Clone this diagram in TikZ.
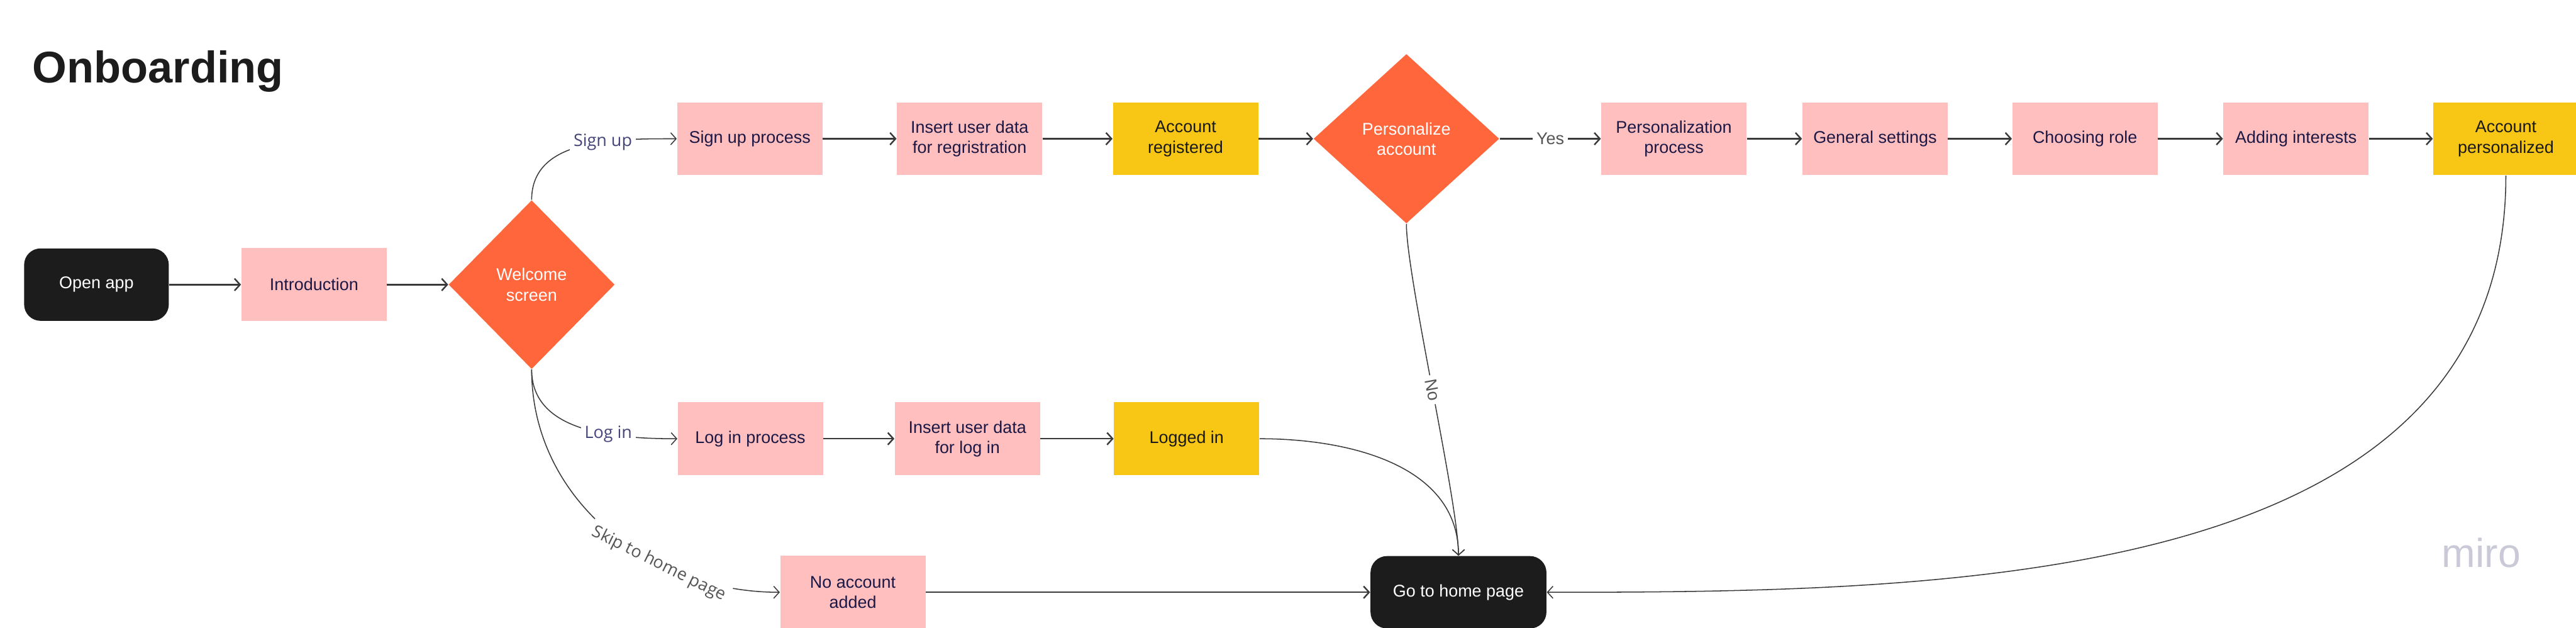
\documentclass[tikz,border=0pt]{standalone}
\usepackage{fontspec}
\setmainfont{Liberation Sans}
\newfontfamily\edgefont{Open Sans}
\usetikzlibrary{shapes.geometric,arrows.meta}
\definecolor{stepfill}{HTML}{FFBFBF}
\definecolor{donefill}{HTML}{F8C614}
\definecolor{choicefill}{HTML}{FF663B}
\definecolor{darkfill}{HTML}{1C1C1C}
\definecolor{inktext}{HTML}{1B1846}
\definecolor{linegray}{HTML}{3A3A3A}
\definecolor{labelnavy}{HTML}{45457A}
\definecolor{labelgray}{HTML}{555555}
\definecolor{mirogray}{HTML}{C9C9D8}
\tikzset{
  >={Straight Barb[length=1mm,width=2.2mm]},
  base/.style={font=\fontsize{8.8}{10.5}\selectfont, align=center, inner sep=0pt},
  stepbox/.style={base, rectangle, fill=stepfill, text=inktext, minimum width=2.65cm, minimum height=1.33cm},
  donebox/.style={stepbox, fill=donefill, text=black!90},
  endbox/.style={base, rectangle, rounded corners=0.3cm, fill=darkfill, text=white, minimum height=1.32cm},
  choice/.style={base, diamond, fill=choicefill, text=white, aspect=1},
  flow/.style={->, draw=linegray, line width=0.8pt},
  curve/.style={->, draw=linegray, line width=0.5pt},
  edgelabel/.style={fill=white, inner sep=2pt, font=\edgefont\fontsize{8.8}{10}\selectfont, text=labelnavy},
}
\begin{document}
\begin{tikzpicture}
\useasboundingbox (0,0) rectangle (47,-11.45);
\node[anchor=base west, font=\fontsize{23}{23}\selectfont\bfseries, text=darkfill] (title) at (0.47,-1.51) {Onboarding};

\node[endbox, minimum width=2.64cm] (openapp) at (1.76,-5.19) {Open app};
\node[stepbox] (intro) at (5.73,-5.19) {Introduction};
\node[choice, minimum width=3.03cm, minimum height=3.08cm] (welcome) at (9.70,-5.19) {Welcome\\screen};

\node[stepbox] (signup) at (13.68,-2.53) {Sign up process};
\node[stepbox] (insertreg) at (17.69,-2.53) {Insert user data\\for regristration};
\node[donebox] (registered) at (21.63,-2.53) {Account\\registered};
\node[choice, minimum width=3.39cm, minimum height=3.09cm] (personalize) at (25.66,-2.53) {Personalize\\account};
\node[stepbox] (persproc) at (30.54,-2.53) {Personalization\\process};
\node[stepbox] (general) at (34.21,-2.53) {General settings};
\node[stepbox] (role) at (38.04,-2.53) {Choosing role};
\node[stepbox] (interests) at (41.89,-2.53) {Adding interests};
\node[donebox] (personalized) at (45.72,-2.53) {Account\\personalized};

\node[stepbox] (login) at (13.69,-8.00) {Log in process};
\node[stepbox] (insertlogin) at (17.65,-8.00) {Insert user data\\for log in};
\node[donebox] (loggedin) at (21.65,-8.00) {Logged in};

\node[stepbox] (noaccount) at (15.56,-10.80) {No account\\added};
\node[endbox, minimum width=3.21cm] (home) at (26.61,-10.80) {Go to home page};

\node[anchor=base west, font=\fontsize{21}{21}\selectfont, text=mirogray] (miro) at (44.43,-10.34) {miro};

\foreach \a/\b in {openapp/intro, intro/welcome, signup/insertreg, insertreg/registered, registered/personalize,
  persproc/general, general/role, role/interests, interests/personalized,
  login/insertlogin, insertlogin/loggedin, noaccount/home}
  \draw[flow] (\a.east) -- (\b.west);

\draw[flow] (personalize.east) -- node[edgelabel, font=\fontsize{8.8}{10}\selectfont, text=labelgray] {Yes} (persproc.west);
\draw[curve] (welcome.north) to[out=90,in=180] node[edgelabel, pos=0.62] {Sign up} (signup.west);
\draw[curve] (welcome.south) to[out=-90,in=180] node[edgelabel, pos=0.65] {Log in} (login.west);
\draw[curve] (welcome.south) to[out=-90,in=180] node[edgelabel, pos=0.67, sloped, text=labelgray] {Skip to home page} (noaccount.west);
\draw[curve] (personalize.south) to[out=-90,in=90,looseness=0.4] node[edgelabel, pos=0.5, sloped, font=\fontsize{8.8}{10}\selectfont, text=labelgray] {No} (home.north);
\draw[curve] (loggedin.east) to[out=0,in=90] (home.north);
\draw[curve] (personalized.south) to[out=-90,in=0] (home.east);
\end{tikzpicture}
\end{document}
